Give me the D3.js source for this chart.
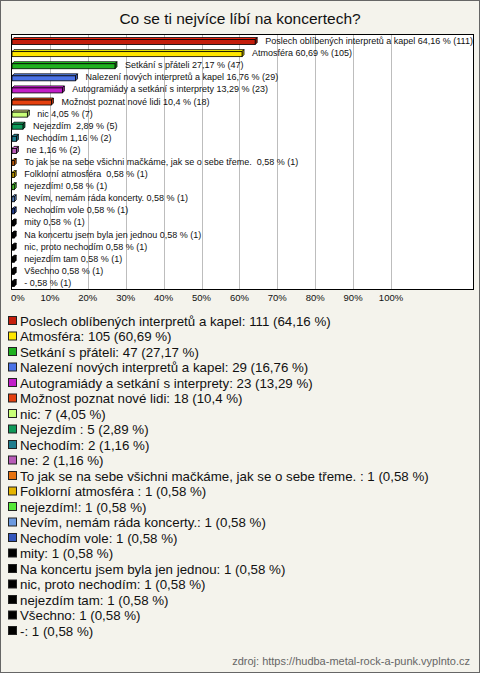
<!DOCTYPE html>
<html><head><meta charset="utf-8">
<script src="https://cdn.jsdelivr.net/npm/d3@7"></script>
<style>body{margin:0;background:#fff}svg text{white-space:pre}</style>
</head><body><svg id="c" width="480" height="673"></svg>
<script>
const categories = ["Poslech oblíbených interpretů a kapel","Atmosféra","Setkání s přáteli","Nalezení nových interpretů a kapel","Autogramiády a setkání s interprety","Možnost poznat nové lidi","nic","Nejezdím ","Nechodím","ne","To jak se na sebe všichni mačkáme, jak se o sebe třeme. ","Folklorní atmosféra ","nejezdím!","Nevím, nemám ráda koncerty.","Nechodím vole","mity","Na koncertu jsem byla jen jednou","nic, proto nechodím","nejezdím tam","Všechno","-"];
const counts = [111,105,47,29,23,18,7,5,2,2,1,1,1,1,1,1,1,1,1,1,1];
const percents = [64.16,60.69,27.17,16.76,13.29,10.4,4.05,2.89,1.16,1.16,0.58,0.58,0.58,0.58,0.58,0.58,0.58,0.58,0.58,0.58,0.58];
const colors = ["#c41e0c","#ffe600","#1fb01f","#4a72e6","#c21ec8","#e4400f","#c8ff78","#0f9a5a","#1f7d8e","#b85cb8","#e6720f","#e4b400","#55e838","#6c9ae0","#3356bb","#000","#000","#000","#000","#000","#000"];
const ticks = [0,10,20,30,40,50,60,70,80,90,100];
const title = "Co se ti nejvíce líbí na koncertech?";
const source = "zdroj: https://hudba-metal-rock-a-punk.vyplnto.cz";

const fmt = v => String(v).replace('.', ',');
const svg = d3.select("#c");
const F = "'Liberation Sans', Arial, sans-serif";

svg.append("rect").attr("x",0.5).attr("y",0.5).attr("width",479).attr("height",672)
  .attr("fill","#f4f3ec").attr("stroke","#666");

svg.append("text").attr("x",240).attr("y",24).attr("text-anchor","middle")
  .attr("font-family",F).attr("font-size",15.5).attr("fill","#111").text(title);

const pL=12, pR=473, pT=35, pB=289;
const x = d3.scaleLinear().domain([0,100]).range([pL,391]);
const y = d3.scaleBand().domain(categories.map((d,i)=>i)).range([pT,pB]);

svg.append("rect").attr("x",pL-0.5).attr("y",pT-0.5).attr("width",pR-pL+1).attr("height",pB-pT+1)
  .attr("fill","#fff");
svg.append("g").selectAll("line").data(ticks.slice(1)).join("line")
  .attr("x1",d=>Math.round(x(d))+0.5).attr("x2",d=>Math.round(x(d))+0.5)
  .attr("y1",pT).attr("y2",pB).attr("stroke","#bdbdbd");

const bh=5, dp=2;
const bars = svg.append("g").selectAll("g").data(categories).join("g");
bars.each(function(d,i){
  const g=d3.select(this);
  const x0=x(0), x1=Math.max(x(percents[i]), x0+2);
  const yc=y(i)+y.bandwidth()/2;
  const yt=yc-bh/2+1;
  const c=d3.color(colors[i]);
  g.append("path").attr("d",`M${x0},${yt}L${x0+dp},${yt-dp}L${x1+dp},${yt-dp}L${x1},${yt}Z`)
    .attr("fill",c.brighter(0.6)).attr("stroke","#000").attr("stroke-width",0.8);
  g.append("path").attr("d",`M${x1},${yt}L${x1+dp},${yt-dp}L${x1+dp},${yt+bh-dp}L${x1},${yt+bh}Z`)
    .attr("fill",c.darker(0.6)).attr("stroke","#000").attr("stroke-width",0.8);
  g.append("rect").attr("x",x0).attr("y",yt).attr("width",x1-x0).attr("height",bh)
    .attr("fill",c).attr("stroke","#000").attr("stroke-width",0.8);
  g.append("text").attr("x",x(percents[i])+10).attr("y",yc+3)
    .attr("font-family",F).attr("font-size",9).attr("fill","#111")
    .text(`${d} ${fmt(percents[i])} % (${counts[i]})`);
});

svg.append("rect").attr("x",pL-0.5).attr("y",pT-0.5).attr("width",pR-pL+1).attr("height",pB-pT+1)
  .attr("fill","none").attr("stroke","#000");

svg.append("g").selectAll("text").data(ticks).join("text")
  .attr("x",d=>d===0?11:x(d)).attr("y",301)
  .attr("text-anchor",d=>d===0?"start":"middle")
  .attr("font-family",F).attr("font-size",9.5).attr("fill","#111").text(d=>d+"%");

const ly = d3.scaleLinear().domain([0,categories.length-1]).range([321,631]);
const lg = svg.append("g").selectAll("g").data(categories).join("g")
  .attr("transform",(d,i)=>`translate(0,${ly(i)})`);
lg.append("rect").attr("x",8.5).attr("y",-4.5).attr("width",8).attr("height",8)
  .attr("fill",(d,i)=>colors[i]).attr("stroke","#222").attr("stroke-width",1);
lg.append("text").attr("x",20).attr("y",4.5).attr("font-family",F).attr("font-size",13.3).attr("fill","#111")
  .text((d,i)=>`${d}: ${counts[i]} (${fmt(percents[i])} %)`);

svg.append("text").attr("x",470).attr("y",665).attr("text-anchor","end")
  .attr("font-family",F).attr("font-size",11).attr("fill","#666").text(source);
</script></body></html>
